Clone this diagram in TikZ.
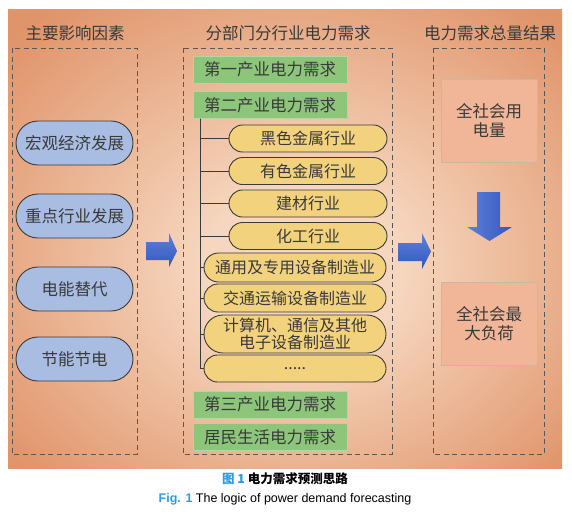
\documentclass[tikz,border=0pt]{standalone}
\usepackage{fontspec}
\setmainfont{Noto Sans CJK SC}
\newfontfamily\latinfont{Liberation Sans}
\usetikzlibrary{shapes.misc}
\definecolor{bgdark}{HTML}{E0946A}
\definecolor{bglight}{HTML}{F6D6BE}
\definecolor{pillblue}{HTML}{A9BDE2}
\definecolor{pillyellow}{HTML}{F3D27E}
\definecolor{boxgreen}{HTML}{8DC57B}
\definecolor{boxgreenline}{HTML}{B5D6A4}
\definecolor{boxsalmon}{HTML}{F1B697}
\definecolor{boxsalmonline}{HTML}{C9B6AA}
\definecolor{arrowlight}{HTML}{5F82DA}
\definecolor{arrowdark}{HTML}{3356BE}
\definecolor{inkgray}{HTML}{3A3A3A}
\definecolor{capblue}{HTML}{2E9BE0}
\pgfdeclareradialshading{bgglow}{\pgfpoint{2bp}{-4bp}}{color(0bp)=(bglight); color(9bp)=(bglight); color(34bp)=(bgdark); color(50bp)=(bgdark)}

\begin{document}
\begin{tikzpicture}[
      x=1pt,y=-1pt,
      font=\fontsize{16.5}{19}\selectfont,
      title/.style={text=inkgray},
      frame/.style={draw=inkgray!85,line width=1pt,dash pattern=on 5pt off 3.5pt},
      factor/.style={rounded rectangle,draw=inkgray,line width=0.9pt,fill=pillblue,
        text=inkgray,minimum width=117pt,minimum height=44pt,inner sep=0pt},
      sector/.style={rectangle,draw=boxgreenline,line width=1pt,fill=boxgreen,
        text=inkgray,minimum width=154pt,minimum height=27pt,inner sep=0pt},
      industry/.style={rounded rectangle,draw=inkgray,line width=0.9pt,fill=pillyellow,
        text=inkgray,align=center,minimum height=27pt,inner sep=0pt,
        font=\fontsize{16}{17}\selectfont},
      result/.style={rectangle,draw=boxsalmonline,line width=1pt,fill=boxsalmon,
        text=inkgray,align=center,minimum width=96pt,minimum height=83pt,inner sep=0pt},
      blockarrow/.style={top color=arrowlight,bottom color=arrowdark,draw=none},
      tree/.style={draw=inkgray,line width=0.9pt}
    ]
    \useasboundingbox (0,0) rectangle (572,514);
    \shade[shading=bgglow] (8,9) rectangle (562,468);

    % column headings and frames
    \node[title] (t1) at (75,33) {主要影响因素};
    \node[title] (t2) at (288,33) {分部门分行业电力需求};
    \node[title] (t3) at (490,33) {电力需求总量结果};
    \draw[frame] (12,48) rectangle (137,454);
    \draw[frame] (183,48) rectangle (392,454);
    \draw[frame] (433,48) rectangle (544,454);

    % influencing factors
    \node[factor] (f1) at (74.5,143) {宏观经济发展};
    \node[factor] (f2) at (74.5,216) {重点行业发展};
    \node[factor] (f3) at (74.5,289) {电能替代};
    \node[factor] (f4) at (74.5,359) {节能节电};

    % sectors and industries
    \node[sector] (s1) at (270,69.5) {第一产业电力需求};
    \node[sector] (s2) at (270,105) {第二产业电力需求};
    \node[sector] (s3) at (270,404.5) {第三产业电力需求};
    \node[sector] (s4) at (270,437) {居民生活电力需求};
    \node[industry,minimum width=158pt] (i1) at (308,138.5) {黑色金属行业};
    \node[industry,minimum width=158pt] (i2) at (308,171) {有色金属行业};
    \node[industry,minimum width=158pt] (i3) at (308,203.5) {建材行业};
    \node[industry,minimum width=158pt] (i4) at (308,236) {化工行业};
    \node[industry,minimum width=182pt,minimum height=29pt] (i5) at (295,267.5) {通用及专用设备制造业};
    \node[industry,minimum width=182pt,minimum height=28pt] (i6) at (295,298) {交通运输设备制造业};
    \node[industry,minimum width=182pt,minimum height=38pt] (i7) at (295,334) {计算机、通信及其他\\电子设备制造业};
    \node[industry,minimum width=182pt] (i8) at (295,368.5) {.....};
    \coordinate (trunk) at (200,118.5);
    \foreach \i in {1,...,8}
      \draw[tree] (trunk) |- (i\i.west);

    % totals
    \node[result] (r1) at (489,120.5) {全社会用\\电量};
    \node[result] (r2) at (489,323.5) {全社会最\\大负荷};

    % block arrows
    \shade[blockarrow] (146,242) -- (169,242) -- (169,233) -- (177,251)
      -- (169,267) -- (169,260) -- (146,260) -- cycle;
    \shade[blockarrow] (398,243) -- (422,243) -- (422,233) -- (431,251.5)
      -- (422,269) -- (422,261) -- (398,261) -- cycle;
    \shade[left color=arrowlight,right color=arrowdark] (477,192) -- (500,192)
      -- (500,227) -- (512,227) -- (489.5,241) -- (467,227) -- (477,227) -- cycle;

    % caption
    \node[font=\fontsize{12.5}{14}\selectfont\bfseries] (cap1) at (285,478.5)
      {\textcolor{capblue}{图 1} 电力需求预测思路};
    \node[font=\latinfont\fontsize{12.5}{14}\selectfont] (cap2) at (285,499)
      {\textcolor{capblue}{\bfseries Fig. 1} The logic of power demand forecasting};
  \end{tikzpicture}
\end{document}
